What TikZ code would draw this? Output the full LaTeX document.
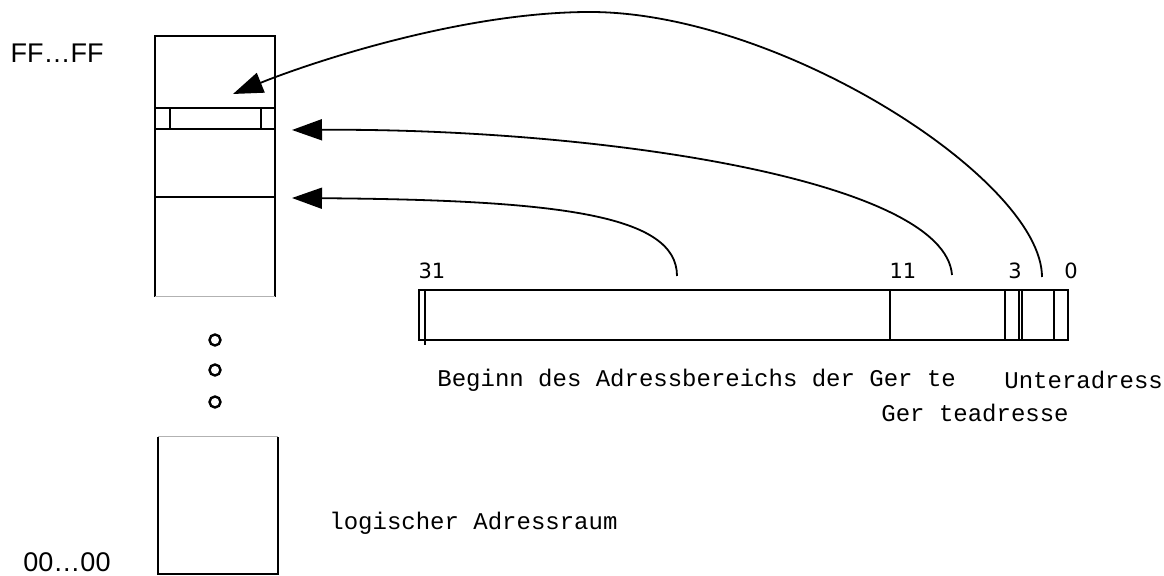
\documentclass[tikz,border=0pt]{standalone}
\usepackage{fontspec}
\usepackage{tikz}
\usetikzlibrary{arrows.meta}
\newfontfamily\monofont{Liberation Mono}
\newfontfamily\digitfont{DejaVu Sans}
\newfontfamily\addrfont{Liberation Sans}

\begin{document}
\begin{tikzpicture}[
    x=0.5pt, y=-0.5pt,
    box/.style={line width=1pt},
    faint/.style={line width=0.5pt, black!30},
    txt/.style={font=\fontsize{12}{14}\monofont, anchor=west, inner sep=0pt},
    bitno/.style={font=\fontsize{10.5}{12}\digitfont, inner sep=0pt},
    addr/.style={font=\fontsize{13.5}{16}\addrfont, inner sep=0pt},
    dot/.style={circle, draw, line width=1.2pt, minimum size=5.5pt, inner sep=0pt},
    arrow/.style={-{Triangle[length=15pt,width=10.5pt]}, line width=0.9pt}
]
\useasboundingbox (0,0) rectangle (1164,576);

% logical address space, upper part
\draw[box] (155,297) -- (155,36) -- (275,36) -- (275,297);
\draw[faint] (155,297) -- (275,297);
\draw[box] (155,108) -- (275,108);
\draw[box] (155,129) -- (275,129);
\draw[box] (170,108) -- (170,129);
\draw[box] (261,108) -- (261,129);
\draw[box] (155,197) -- (275,197);

% dots
\node[dot] (d1) at (215,340) {};
\node[dot] (d2) at (215,370) {};
\node[dot] (d3) at (215,402) {};

% lower part
\draw[box] (158,437) -- (158,574) -- (278,574) -- (278,437);
\draw[faint] (158,437) -- (278,437);

\node[addr] (high) at (57,53) {FF…FF};
\node[addr] (low) at (67,562) {00…00};
\node[txt] (space) at (329,523) {logischer Adressraum};

% 32 bit address
\draw[box] (419,290) rectangle (1068,340);
\draw[box] (425,290) -- (425,345);
\foreach \x in {890,1005,1019,1022,1054}
    \draw[box] (\x,290) -- (\x,340);

\node[bitno] (b31) at (432,271) {31};
\node[bitno] (b11) at (903,271) {11};
\node[bitno] (b3) at (1015,271) {3};
\node[bitno] (b0) at (1071,271) {0};

\node[txt] (basetxt) at (437,380) {Beginn des Adressbereichs der Ger te};
\node[txt] (subtxt) at (1004,380) {Unteradresse};
\node[txt] (devtxt) at (881,413) {Ger teadresse};

% arrows
\coordinate (slot) at (233,94);
\coordinate (dev) at (292,130);
\coordinate (base) at (292,198);
\coordinate (sub) at (1042,277);
\coordinate (devbits) at (952,275);
\coordinate (basebits) at (677,276);

\draw[arrow] (sub) .. controls (1042,180) and (780,12) .. (590,12)
    .. controls (460,12) and (307,64) .. (slot);
\draw[arrow] (devbits) .. controls (945,180) and (600,128) .. (dev);
\draw[arrow] (basebits) .. controls (677,215) and (560,200) .. (base);
\end{tikzpicture}
\end{document}
